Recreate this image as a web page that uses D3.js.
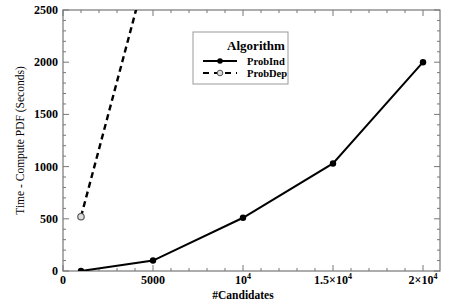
<!DOCTYPE html>
<html><head><meta charset="utf-8">
<script src="https://cdn.jsdelivr.net/npm/d3@7"></script>
<style>body{margin:0;background:#fff}svg{display:block}</style>
</head><body>
<script>
const xProbInd = [1000, 5000, 10000, 15000, 20000];
const yProbInd = [0, 100, 510, 1030, 2000];
const xProbDep = [1000, 5000];
const yProbDep = [520, 3110];
const xTickVals = [0, 5000, 10000, 15000, 20000];
const xTickLabels = ["0", "5000", "10^4", "1.5×10^4", "2×10^4"];
const yTickVals = [0, 500, 1000, 1500, 2000, 2500];
const seriesNames = ["ProbInd", "ProbDep"];

const W = 452, H = 302;
const m = {l: 63, r: 12, t: 10, b: 31};
const FONT = "Liberation Serif";
const svg = d3.select("body").append("svg").attr("width", W).attr("height", H)
  .attr("font-family", FONT);
const x = d3.scaleLinear().domain([0, 20944]).range([m.l, W - m.r]);
const y = d3.scaleLinear().domain([0, 2500]).range([H - m.b, m.t]);
const frameCol = "#777";

svg.append("defs").append("clipPath").attr("id", "clip")
  .append("rect").attr("x", m.l).attr("y", m.t).attr("width", W - m.r - m.l).attr("height", H - m.b - m.t);

svg.append("rect").attr("x", m.l).attr("y", m.t).attr("width", W - m.r - m.l).attr("height", H - m.b - m.t)
  .attr("fill", "none").attr("stroke", frameCol).attr("stroke-width", 1.2);

const xMinor = d3.range(0, 21000, 1000);
const yMinor = d3.range(0, 2501, 100);
const tg = svg.append("g").attr("stroke", frameCol).attr("stroke-width", 1);
xMinor.forEach(v => {
  const major = v % 5000 === 0; const L = major ? 6 : 3;
  tg.append("line").attr("x1", x(v)).attr("x2", x(v)).attr("y1", y(0)).attr("y2", y(0) - L);
  tg.append("line").attr("x1", x(v)).attr("x2", x(v)).attr("y1", y(2500)).attr("y2", y(2500) + L);
});
yMinor.forEach(v => {
  const major = v % 500 === 0; const L = major ? 6 : 3;
  tg.append("line").attr("y1", y(v)).attr("y2", y(v)).attr("x1", x(0)).attr("x2", x(0) + L);
  tg.append("line").attr("y1", y(v)).attr("y2", y(v)).attr("x1", x(20944)).attr("x2", x(20944) - L);
});

svg.append("g").selectAll("text").data(yTickVals).join("text")
  .attr("x", m.l - 5).attr("y", d => y(d) + 4).attr("text-anchor", "end")
  .attr("font-family", FONT).attr("font-weight", "bold").attr("font-size", 12).text(d => d);

const xl = svg.append("g");
xTickVals.forEach((v, i) => {
  const lab = xTickLabels[i];
  const t = xl.append("text").attr("x", x(v)).attr("y", H - m.b + 13).attr("text-anchor", "middle")
    .attr("font-family", FONT).attr("font-weight", "bold").attr("font-size", 12);
  if (lab.includes("^")) {
    const [base, exp] = lab.split("^");
    t.append("tspan").text(base);
    t.append("tspan").attr("dy", -5).attr("font-size", 8).text(exp);
  } else t.text(lab);
});

svg.append("text").attr("x", x(10000)).attr("y", H - 3).attr("text-anchor", "middle")
  .attr("font-family", FONT).attr("font-weight", "bold").attr("font-size", 11.5).text("#Candidates");
svg.append("text").attr("transform", `translate(24,${(m.t + H - m.b) / 2}) rotate(-90)`)
  .attr("text-anchor", "middle").attr("font-family", FONT).attr("font-size", 11.5)
  .text("Time - Compute PDF (Seconds)");

const line = d3.line().x(d => x(d[0])).y(d => y(d[1]));
const plot = svg.append("g").attr("clip-path", "url(#clip)");
const ind = xProbInd.map((v, i) => [v, yProbInd[i]]);
const dep = xProbDep.map((v, i) => [v, yProbDep[i]]);
plot.append("path").attr("d", line(ind)).attr("fill", "none").attr("stroke", "#000").attr("stroke-width", 2);
plot.append("path").attr("d", line(dep)).attr("fill", "none").attr("stroke", "#000").attr("stroke-width", 2.4)
  .attr("stroke-dasharray", "6,4");
plot.selectAll(".pi").data(ind).join("circle").attr("cx", d => x(d[0])).attr("cy", d => y(d[1])).attr("r", 3.2).attr("fill", "#000");
plot.selectAll(".pd").data(dep).join("circle").attr("cx", d => x(d[0])).attr("cy", d => y(d[1])).attr("r", 3.2)
  .attr("fill", "#ddd").attr("stroke", "#555").attr("stroke-width", 1.2);

const lg = svg.append("g");
lg.append("rect").attr("x", 193).attr("y", 32).attr("width", 95).attr("height", 52)
  .attr("fill", "#fff").attr("stroke", "#999").attr("stroke-width", 1);
lg.append("text").attr("x", 256).attr("y", 50).attr("text-anchor", "middle")
  .attr("font-family", FONT).attr("font-weight", "bold").attr("font-size", 13).text("Algorithm");
seriesNames.forEach((n, i) => {
  const yy = 61 + i * 12;
  lg.append("line").attr("x1", 203).attr("x2", 237).attr("y1", yy).attr("y2", yy)
    .attr("stroke", "#000").attr("stroke-width", 2).attr("stroke-dasharray", i ? "6,5" : null);
  if (i === 0) lg.append("circle").attr("cx", 220).attr("cy", yy).attr("r", 2.8).attr("fill", "#000");
  else lg.append("circle").attr("cx", 220).attr("cy", yy).attr("r", 2.8).attr("fill", "#ddd").attr("stroke", "#555");
  lg.append("text").attr("x", 247).attr("y", yy + 4).attr("font-family", FONT).attr("font-weight", "bold")
    .attr("font-size", 10.5).text(n);
});
</script>
</body></html>
